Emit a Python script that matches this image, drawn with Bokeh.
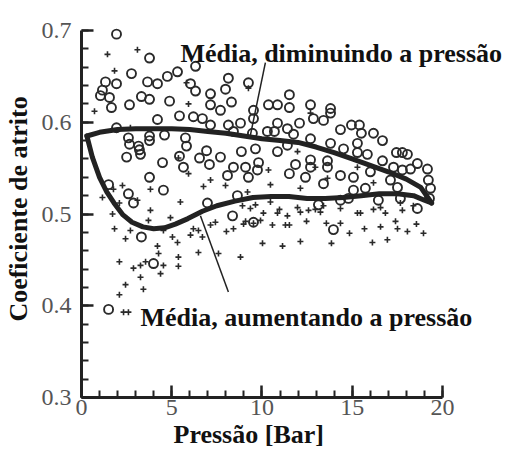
import numpy as np
from bokeh.plotting import figure
from bokeh.models import Range1d, FixedTicker, PrintfTickFormatter, Label, Title
from bokeh.embed import file_html
from bokeh.resources import INLINE

# ---- data ----
# open circles: decreasing pressure
circle_x = [1.94, 3.77, 2.77, 5.32, 4.76, 6.32, 1.33, 1.94, 3.66, 4.21, 6.04, 6.32, 1.16, 1.05, 1.55, 3.32,
            3.77, 4.88, 1.66, 2.66, 5.43, 6.20, 6.70, 4.21, 1.94, 2.60, 3.77, 4.60, 5.76, 2.66, 3.16, 3.21,
            3.77, 5.82, 2.50, 5.43,
            3.27, 4.49, 5.65, 6.54, 3.77, 4.54, 1.50, 2.60, 2.88, 3.32, 3.99, 1.50,
            8.14, 7.98, 9.25, 7.15, 7.15, 8.31, 7.70, 11.52, 10.36, 10.86, 11.52, 12.69, 9.53, 9.53, 8.81, 8.14,
            7.15, 10.86, 12.08, 12.85, 8.42, 10.30, 10.69, 11.41, 11.75, 9.47, 12.69, 6.93, 8.86, 10.86, 9.64,
            11.41, 7.70, 7.09, 8.42, 9.09, 9.81, 9.75, 11.86, 12.69, 12.69, 8.09, 9.25, 11.52, 12.41, 13.41, 8.64,
            13.80, 13.80, 13.41, 14.35, 14.96, 15.40, 15.51, 16.18, 16.68, 13.80, 14.52, 15.29, 15.29, 15.84,
            17.45, 17.78, 18.06, 16.68, 18.61, 19.17, 13.63, 13.63, 17.29, 17.78, 18.23, 16.01, 14.35, 15.07,
            17.12, 19.22, 15.07, 15.73, 17.51, 19.34, 16.45, 17.67, 18.61, 14.35,
            6.98, 8.37, 9.53, 13.13, 14.79, 19.28, 13.96]
circle_y = [0.696, 0.670, 0.653, 0.655, 0.650, 0.661, 0.644, 0.642, 0.644, 0.642, 0.642, 0.634, 0.635, 0.629, 0.627, 0.628,
            0.625, 0.623, 0.616, 0.619, 0.607, 0.606, 0.604, 0.603, 0.594, 0.583, 0.585, 0.586, 0.583, 0.576, 0.574, 0.570,
            0.580, 0.574, 0.562, 0.563,
            0.565, 0.556, 0.551, 0.561, 0.540, 0.526, 0.532, 0.522, 0.512, 0.475, 0.446, 0.396,
            0.648, 0.636, 0.643, 0.631, 0.619, 0.622, 0.613, 0.630, 0.619, 0.619, 0.616, 0.619, 0.613, 0.604, 0.599, 0.597,
            0.597, 0.599, 0.599, 0.604, 0.590, 0.590, 0.590, 0.593, 0.587, 0.588, 0.582, 0.569, 0.568, 0.568, 0.571,
            0.575, 0.562, 0.554, 0.551, 0.551, 0.556, 0.548, 0.554, 0.559, 0.551, 0.542, 0.540, 0.544, 0.540, 0.533, 0.520,
            0.615, 0.610, 0.602, 0.592, 0.597, 0.597, 0.588, 0.588, 0.580, 0.577, 0.571, 0.577, 0.567, 0.565,
            0.567, 0.567, 0.565, 0.558, 0.555, 0.549, 0.558, 0.551, 0.551, 0.548, 0.549, 0.546, 0.542, 0.540,
            0.537, 0.537, 0.526, 0.528, 0.529, 0.528, 0.515, 0.517, 0.506, 0.515,
            0.512, 0.498, 0.491, 0.510, 0.517, 0.517, 0.483]

# plus signs: increasing pressure
plus_x = [1.44, 1.83, 0.72, 5.93, 2.71, 5.82, 3.10,
          9.25, 10.36, 11.97, 7.98, 6.76, 10.47, 12.13, 9.20, 7.15, 12.69, 12.96,
          13.63, 15.29, 16.18, 15.46, 14.35, 16.57, 17.67, 13.41,
          7.59, 8.81, 10.03, 11.14, 12.13, 13.85, 16.12, 16.95, 14.85, 15.68, 16.57, 17.51, 18.06, 18.56, 18.95,
          17.40, 13.57, 14.35, 12.47, 11.30, 11.52, 10.58, 8.42, 8.03, 8.98, 9.09, 9.53, 9.92, 10.08, 10.86,
          11.41, 10.97, 11.97, 12.13, 12.58, 12.96, 13.24, 15.29, 16.18, 16.84, 17.78, 18.39, 9.36,
          9.64, 8.92, 7.42, 7.15, 6.70,
          2.27, 1.77, 1.16, 2.10, 3.10, 5.48, 3.82, 1.72, 1.83, 2.71, 2.44, 3.71, 4.54, 4.93, 5.04, 5.32, 6.04,
          6.48, 6.20, 6.48, 4.21, 4.27, 5.37, 5.37, 2.10, 2.88, 3.27, 3.55, 4.54, 4.38, 3.27, 2.44, 3.43, 2.10,
          3.82, 2.33, 2.60, 10.47, 5.37, 5.93]
plus_y = [0.674, 0.656, 0.612, 0.620, 0.594, 0.643, 0.679,
          0.637, 0.548, 0.568, 0.531, 0.530, 0.532, 0.528, 0.524, 0.537, 0.610, 0.551,
          0.539, 0.551, 0.534, 0.501, 0.506, 0.507, 0.512, 0.509,
          0.457, 0.453, 0.468, 0.465, 0.470, 0.468, 0.469, 0.472, 0.479, 0.484, 0.486, 0.484, 0.481, 0.489, 0.479,
          0.492, 0.490, 0.490, 0.492, 0.488, 0.488, 0.488, 0.484, 0.481, 0.489, 0.492, 0.490, 0.493, 0.501, 0.501,
          0.498, 0.505, 0.507, 0.502, 0.504, 0.505, 0.502, 0.501, 0.505, 0.501, 0.504, 0.509, 0.506,
          0.510, 0.509, 0.491, 0.488, 0.475,
          0.531, 0.527, 0.518, 0.512, 0.515, 0.513, 0.504, 0.500, 0.484, 0.482, 0.473, 0.493, 0.482, 0.496, 0.475,
          0.469, 0.477, 0.458, 0.484, 0.482, 0.465, 0.457, 0.453, 0.443, 0.448, 0.441, 0.444, 0.448, 0.444, 0.435,
          0.431, 0.423, 0.418, 0.412, 0.527, 0.393, 0.393, 0.513, 0.561, 0.544]

# mean curves
dec_x = [0.3, 1, 2, 3, 4, 5, 6, 7, 8, 9, 10, 11, 12, 13, 14, 15, 16, 17, 18, 18.8, 19.4]
dec_y = [0.585, 0.589, 0.592, 0.593, 0.593, 0.593, 0.592, 0.590, 0.588, 0.585, 0.582, 0.580, 0.578, 0.573,
         0.567, 0.560, 0.553, 0.546, 0.538, 0.529, 0.512]
inc_x = [0.3, 0.6, 1.0, 1.4, 1.8, 2.3, 2.8, 3.4, 4.0, 4.6, 5.2, 5.9, 6.7, 7.5, 8.5, 9.5, 10.5, 11.5, 12.5,
         13.5, 14.5, 15.5, 16.5, 17.5, 18.4, 19.0, 19.4]
inc_y = [0.585, 0.562, 0.540, 0.524, 0.512, 0.499, 0.491, 0.486, 0.484, 0.485, 0.489, 0.495, 0.503, 0.509,
         0.514, 0.518, 0.519, 0.519, 0.517, 0.517, 0.518, 0.520, 0.522, 0.522, 0.520, 0.515, 0.512]

x_ticks = [0, 5, 10, 15, 20]
y_ticks = [0.3, 0.4, 0.5, 0.6, 0.7]

x_title = "Pressão [Bar]"
y_title = "Coeficiente de atrito"
label_dec = "Média, diminuindo a pressão"
label_inc = "Média, aumentando a pressão"
leader_dec_x = [10.19, 9.36]
leader_dec_y = [0.665, 0.586]
leader_inc_x = [6.59, 8.14]
leader_inc_y = [0.498, 0.415]

INK = "#222222"
SERIF = "'Liberation Serif', 'Times New Roman', Times, serif"

p = figure(width=506, height=452, output_backend="svg", toolbar_location=None,
           x_range=Range1d(0, 23.55), y_range=Range1d(0.3, 0.7109),
           min_border_left=81, min_border_right=0, min_border_top=20, min_border_bottom=55)
p.outline_line_color = None
p.xgrid.visible = False
p.ygrid.visible = False
p.background_fill_color = "white"
p.border_fill_color = "white"

p.scatter(circle_x, circle_y, marker="circle", size=9, fill_color=None, line_color="#2a2a2a", line_width=1.9)
p.scatter(plus_x, plus_y, marker="cross", size=6, line_color="#2a2a2a", line_width=1.6)

p.line(dec_x, dec_y, line_width=5, line_color=INK, line_join="round", line_cap="round")
p.line(inc_x, inc_y, line_width=5, line_color=INK, line_join="round", line_cap="round")
p.line(leader_dec_x, leader_dec_y, line_width=1.5, line_color=INK)
p.line(leader_inc_x, leader_inc_y, line_width=1.5, line_color=INK)

for txt, lx, ly in [(label_dec, 5.48, 0.675), (label_inc, 3.27, 0.387)]:
    p.add_layout(Label(x=lx, y=ly, text=txt, text_font=SERIF, text_font_style="bold",
                       text_font_size="26px", text_color="#111111", text_baseline="alphabetic"))

xa = p.xaxis[0]
ya = p.yaxis[0]
xa.ticker = FixedTicker(ticks=x_ticks, minor_ticks=list(range(0, 21)))
ya.ticker = FixedTicker(ticks=y_ticks, minor_ticks=[round(v, 2) for v in np.arange(0.3, 0.7001, 0.02)])
xa.formatter = PrintfTickFormatter(format="%d")
ya.formatter = PrintfTickFormatter(format="%.1f")
xa.bounds = (0, 20)
ya.bounds = (0.3, 0.7)
ya.axis_label = y_title
for ax in (xa, ya):
    ax.axis_line_width = 3
    ax.axis_line_color = INK
    ax.major_tick_in = 12
    ax.major_tick_out = 0
    ax.minor_tick_in = 7
    ax.minor_tick_out = 0
    ax.major_tick_line_width = 2.5
    ax.minor_tick_line_width = 2
    ax.major_tick_line_color = INK
    ax.minor_tick_line_color = INK
    ax.major_label_text_font = SERIF
    ax.major_label_text_font_size = "24px"
    ax.major_label_text_color = "#555555"
    ax.axis_label_text_font = SERIF
    ax.axis_label_text_font_style = "bold"
    ax.axis_label_text_font_size = "26px"
    ax.axis_label_text_color = "#111111"
xa.major_label_standoff = 2
ya.major_label_standoff = 10
ya.major_label_text_baseline = "alphabetic"
ya.axis_label_standoff = 6

# x-axis title placed under the axis (offset so it sits where the original's does)
p.add_layout(Title(text=x_title, align="left", offset=92, standoff=0, text_font=SERIF,
                   text_font_style="bold", text_font_size="26px", text_color="#111111"), "below")

open("out.html", "w").write(file_html(p, INLINE))
